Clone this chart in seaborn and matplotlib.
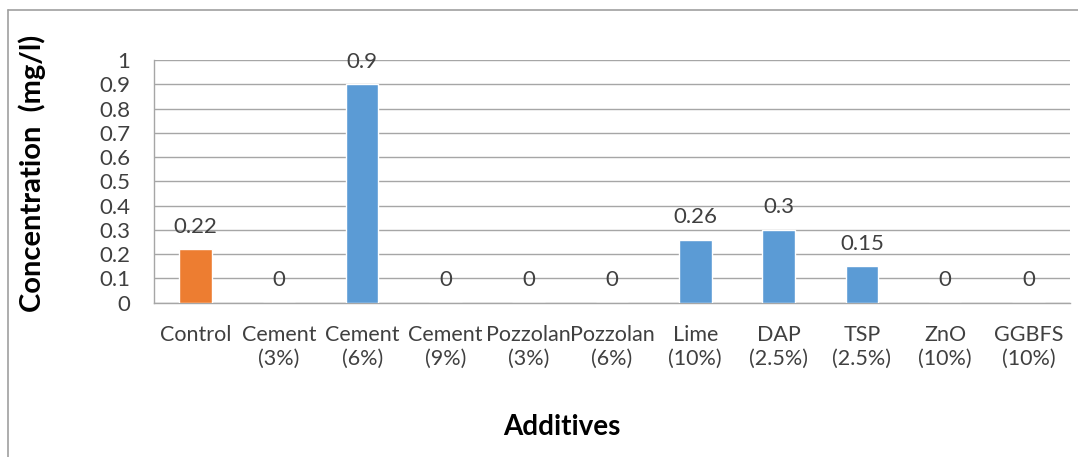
import matplotlib
matplotlib.use("Agg")
import matplotlib.pyplot as plt
import seaborn as sns
import pandas as pd
import numpy as np
from matplotlib.lines import Line2D

# Additive treatments and measured concentrations (mg/l)
categories = ["Control", "Cement\n(3%)", "Cement\n(6%)", "Cement\n(9%)",
              "Pozzolan\n(3%)", "Pozzolan\n(6%)", "Lime\n(10%)", "DAP\n(2.5%)",
              "TSP\n(2.5%)", "ZnO\n(10%)", "GGBFS\n(10%)"]
values = [0.22, 0, 0.9, 0, 0, 0, 0.26, 0.3, 0.15, 0, 0]
groups = ["Control"] + ["Treated"] * 10
group_colors = {"Control": "#ED7D31", "Treated": "#5B9BD5"}
value_labels = ["0.22", "0", "0.9", "0", "0", "0", "0.26", "0.3", "0.15", "0", "0"]
y_ticks = [0, 0.1, 0.2, 0.3, 0.4, 0.5, 0.6, 0.7, 0.8, 0.9, 1]
y_tick_labels = ["0", "0.1", "0.2", "0.3", "0.4", "0.5", "0.6", "0.7", "0.8", "0.9", "1"]

df = pd.DataFrame({"Additive": categories, "Concentration": values, "Group": groups})

sns.set_style("white")
plt.rcParams["font.family"] = ["Lato", "DejaVu Sans"]

W, H = 1078, 457
fig = plt.figure(figsize=(W / 100, H / 100), dpi=100)
ax = fig.add_axes([154 / W, 1 - 302.7 / H, (1070 - 154) / W, (302.7 - 60) / H])

sns.barplot(data=df, x="Additive", y="Concentration", hue="Group",
            palette=group_colors, dodge=False, width=0.39, ax=ax,
            legend=False, saturation=1, zorder=3)

grid_col = "#A6A6A6"
text_col = "#404040"
ax.set_ylim(0, 1)
ax.set_xlim(-0.5, len(categories) - 0.5)
ax.set_yticks(y_ticks)
ax.set_yticklabels(y_tick_labels, fontsize=16, color=text_col)
ax.yaxis.grid(True, color=grid_col, linewidth=1, zorder=0)
ax.set_axisbelow(True)

ax.set_xticks(range(len(categories)))
ax.set_xticklabels(categories, fontsize=15.5, color=text_col, linespacing=1.25)
ax.set_xticks(np.arange(-0.5, len(categories), 1.0), minor=True)
ax.tick_params(axis="x", which="major", length=0, pad=16)
ax.tick_params(axis="x", which="minor", length=6, width=1, color=grid_col)
ax.tick_params(axis="y", which="major", length=6, width=1, color=grid_col, pad=11)

for side in ["top", "right"]:
    ax.spines[side].set_visible(False)
for side in ["left", "bottom"]:
    ax.spines[side].set_color(grid_col)
    ax.spines[side].set_linewidth(1)

for i, (v, lab) in enumerate(zip(values, value_labels)):
    ax.annotate(lab, (i, v), xytext=(0, 9), textcoords="offset points",
                ha="center", va="bottom", fontsize=16, color=text_col)

ax.set_xlabel("Additives", fontsize=20, fontweight="bold", color="black")
ax.xaxis.set_label_coords((562 - 154) / 916, -(414 - 302.7) / 242.7)
ax.set_ylabel("Concentration  (mg/l)", fontsize=21, fontweight="bold", color="black")
ax.yaxis.set_label_coords((46 - 154) / 916, (302.7 - 173) / 242.7)

# chart frame (top and left edges)
frame_kw = dict(transform=fig.transFigure, color="#A0A0A0", linewidth=1.2)
fig.add_artist(Line2D([8 / W, 1], [1 - 10 / H, 1 - 10 / H], **frame_kw))
fig.add_artist(Line2D([8 / W, 8 / W], [0, 1 - 10 / H], **frame_kw))

fig.savefig("out.png", dpi=100)
